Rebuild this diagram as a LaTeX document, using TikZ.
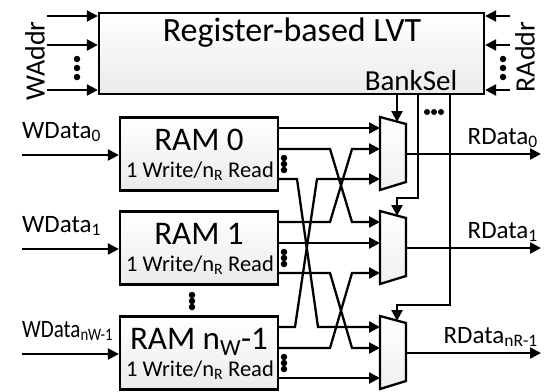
\documentclass[tikz,border=0pt]{standalone}
\usepackage{fontspec}
\setmainfont{Carlito}
\usetikzlibrary{calc, positioning}
\usetikzlibrary{arrows.meta}

\tikzset{
  wire/.style={line width=2.3pt},
  sig/.style={wire, -{Triangle[length=11pt,width=11pt]}},
  blockbox/.style={draw, line width=2.3pt, top color=white, bottom color=gray!16, inner sep=0pt},
  muxshape/.style={draw, line width=2.3pt, top color=white, bottom color=gray!12},
  titletxt/.style={font=\fontsize{34}{38}\selectfont, inner sep=0pt},
  ramtxt/.style={font=\fontsize{33}{36}\selectfont, inner sep=0pt, anchor=base},
  porttxt/.style={font=\fontsize{22.5}{24}\selectfont, inner sep=0pt, anchor=base},
  datatxt/.style={font=\fontsize{25}{28}\selectfont, inner sep=0pt},
  addrtxt/.style={font=\fontsize{28}{30}\selectfont, inner sep=0pt, rotate=90},
  dot/.style={circle, fill, inner sep=0pt, minimum size=6.5pt}
}

\begin{document}
\begin{tikzpicture}[x=1pt, y=-1pt]
\useasboundingbox (0,0) rectangle (548,391);

% Live value table on top
\node[blockbox, minimum width=385pt, minimum height=81pt] (lvt) at (291.5,53.5) {};
\node[titletxt] (lvttitle) at (292,33) {Register-based LVT};
\node[titletxt, font=\fontsize{29}{32}\selectfont] (banksel) at (411,81) {BankSel};

% Write and read address ports
\node[addrtxt] (waddr) at (35,61) {WAddr};
\node[addrtxt] (raddr) at (525,57) {RAddr};
\foreach \k/\y in {0/16,1/45,2/90} {
  \coordinate (wa\k) at (47,\y);
  \coordinate (ra\k) at (510,\y);
  \draw[sig] (wa\k) -- (wa\k -| lvt.west);
  \draw[sig] (ra\k) -- (ra\k -| lvt.east);
}
\foreach \y [count=\k] in {59,68,77} {
  \node[dot] (wadot\k) at (77,\y) {};
  \node[dot] (radot\k) at (503,\y) {};
}

% RAM banks, muxes and their port points
\foreach \i/\t/\n in {0/117/{RAM 0},1/211/{RAM 1},2/316/{RAM n\textsubscript{W}-1}} {
  \node[blockbox, minimum width=158pt, minimum height=73pt] (ram\i) at (199,\t+37) {};
  \node[ramtxt] (ramname\i) at (199,\t+33) {\n};
  \node[porttxt] (ramport\i) at (200,\t+60) {1 Write/n\textsubscript{R} Read};
  \coordinate (wd\i) at (22,\t+38);
  \draw[sig] (wd\i) -- (wd\i -| ram\i.west);
  \coordinate (r\i o0) at (278,\t+11);
  \coordinate (r\i o1) at (278,\t+32);
  \coordinate (r\i o2) at (278,\t+62);
  \foreach \d [count=\k] in {41,47,53}
    \node[dot] (ramdot\i\k) at (284,\t+\d) {};
  \draw[muxshape] (380,\t) -- (406,\t+7) -- (406,\t+65) -- (380,\t+73) -- cycle;
  \coordinate (mux\i in0) at (380,\t+11);
  \coordinate (mux\i in1) at (380,\t+32);
  \coordinate (mux\i in2) at (380,\t+62);
  \coordinate (mux\i out) at (406,\t+37);
  \coordinate (mux\i sel) at (397,\t+5);
  \coordinate (rd\i) at (541,\t+37);
  \draw[sig] (mux\i out) -- (rd\i);
}
\foreach \y [count=\k] in {295,301,307}
  \node[dot] (bankdot\k) at (192,\y) {};

% Data labels
\node[datatxt, anchor=base west] (wdata0) at (wd0) [yshift=17pt] {WData\textsubscript{0}};
\node[datatxt, anchor=base west] (wdata1) at (wd1) [yshift=17pt] {WData\textsubscript{1}};
\node[datatxt, anchor=base west] (wdata2) at (wd2) [yshift=17pt] {\scalebox{0.84}[1]{WData\textsubscript{nW-1}}};
\node[datatxt, anchor=base east] (rdata0) at (rd0) [xshift=-3pt, yshift=10pt] {RData\textsubscript{0}};
\node[datatxt, anchor=base east] (rdata1) at (rd1) [xshift=-3pt, yshift=10pt] {RData\textsubscript{1}};
\node[datatxt, anchor=base east] (rdata2) at (rd2) [xshift=-3pt, yshift=10pt] {RData\textsubscript{nR-1}};

% Straight read paths
\draw[sig] (r0o0) -- (mux0in0);
\draw[sig] (r1o1) -- (mux1in1);
\draw[sig] (r2o2) -- (mux2in2);

% Crossed read paths
\draw[sig] (r0o1) -- ++(52,0) -- ($(mux1in0)+(-28,0)$) -- (mux1in0);
\draw[sig] (r1o0) -- ++(52,0) -- ($(mux0in1)+(-28,0)$) -- (mux0in1);
\draw[sig] (r1o2) -- ++(52,0) -- ($(mux2in1)+(-28,0)$) -- (mux2in1);
\draw[sig] (r2o1) -- ++(52,0) -- ($(mux1in2)+(-28,0)$) -- (mux1in2);
\draw[sig] (r0o2) -- ++(19,0) -- ($(mux2in0)+(-62,0)$) -- (mux2in0);
\draw[sig] (r2o0) -- ++(17,0) -- ($(mux0in2)+(-63,0)$) -- (mux0in2);

% Bank select lines
\coordinate (tap0) at (397,94);
\coordinate (tap1) at (418,94);
\coordinate (tap2) at (450,94);
\draw[sig] (tap0) -- (mux0sel);
\draw[sig] (tap1) -- ++(0,104) -| (mux1sel);
\draw[sig] (tap2) -- ++(0,211) -| (mux2sel);
\foreach \x [count=\k] in {427,434,441}
  \node[dot, minimum size=6pt] (seldot\k) at (\x,112) {};
\end{tikzpicture}
\end{document}
